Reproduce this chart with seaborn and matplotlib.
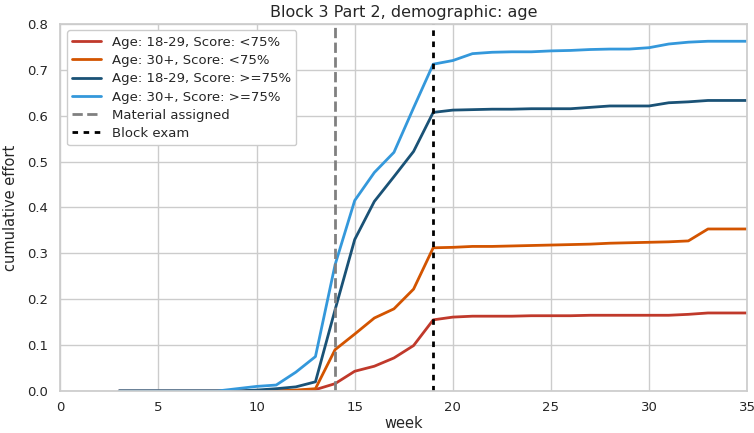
import numpy as np
import pandas as pd
import matplotlib.pyplot as plt
import seaborn as sns

weeks = list(range(3, 36))

# cumulative effort per group, weeks 3..35
young_low = [0, 0, 0, 0, 0, 0, 0, 0, 0, 0.001, 0.003, 0.016, 0.043, 0.054, 0.072, 0.099,
             0.155, 0.161, 0.163, 0.163, 0.163, 0.164, 0.164, 0.164, 0.165, 0.165, 0.165,
             0.165, 0.165, 0.167, 0.170, 0.170, 0.170]
old_low = [0, 0, 0, 0, 0, 0, 0, 0, 0, 0.002, 0.005, 0.090, 0.124, 0.159, 0.179, 0.222,
           0.312, 0.313, 0.315, 0.315, 0.316, 0.317, 0.318, 0.319, 0.320, 0.322, 0.323,
           0.324, 0.325, 0.327, 0.353, 0.353, 0.353]
young_high = [0, 0, 0, 0, 0, 0, 0, 0.002, 0.005, 0.009, 0.020, 0.177, 0.330, 0.413, 0.467,
              0.522, 0.607, 0.612, 0.613, 0.614, 0.614, 0.615, 0.615, 0.615, 0.618, 0.621,
              0.621, 0.621, 0.628, 0.630, 0.633, 0.633, 0.633]
old_high = [0, 0, 0, 0, 0, 0, 0.005, 0.010, 0.013, 0.041, 0.075, 0.275, 0.415, 0.476, 0.520,
            0.617, 0.712, 0.720, 0.735, 0.738, 0.739, 0.739, 0.741, 0.742, 0.744, 0.745,
            0.745, 0.748, 0.756, 0.760, 0.762, 0.762, 0.762]

labels = ["Age: 18-29, Score: <75%", "Age: 30+, Score: <75%",
          "Age: 18-29, Score: >=75%", "Age: 30+, Score: >=75%"]
colors = ["#c0392b", "#d35400", "#1a5276", "#3498db"]

material_week = 14
exam_week = 19

sns.set_theme(style="whitegrid")
plt.rcParams['font.family'] = ['DejaVu Sans']

df = pd.DataFrame({"week": weeks, labels[0]: young_low, labels[1]: old_low,
                   labels[2]: young_high, labels[3]: old_high})
df = df.melt(id_vars="week", var_name="group", value_name="effort")

fig, ax = plt.subplots(figsize=(7.54, 4.33), dpi=100)
sns.lineplot(data=df, x="week", y="effort", hue="group", hue_order=labels,
             palette=colors, linewidth=2, ax=ax)
ax.axvline(material_week, color="gray", linestyle="--", linewidth=2, label="Material assigned")
ax.axvline(exam_week, color="black", linestyle=(0, (2, 2)), linewidth=2, label="Block exam")

ax.set_xlim(0, 35)
ax.set_ylim(0, 0.8)
ax.set_xlabel("week", fontsize=10.5, labelpad=1)
ax.set_ylabel("cumulative effort", fontsize=10.5, labelpad=6)
ax.set_title("Block 3 Part 2, demographic: age", fontsize=11.5, pad=5)
ax.tick_params(axis="x", labelsize=9.5, pad=1.5)
ax.tick_params(axis="y", labelsize=9.5, pad=3)
for s in ax.spines.values():
    s.set_color("#cccccc")

ax.legend(loc="upper left", fontsize=9.5, frameon=True, framealpha=1,
          borderaxespad=0.5, labelspacing=0.4, handlelength=2.2)

plt.subplots_adjust(left=0.08, right=0.991, top=0.945, bottom=0.097)
plt.savefig("out.png", dpi=100)
